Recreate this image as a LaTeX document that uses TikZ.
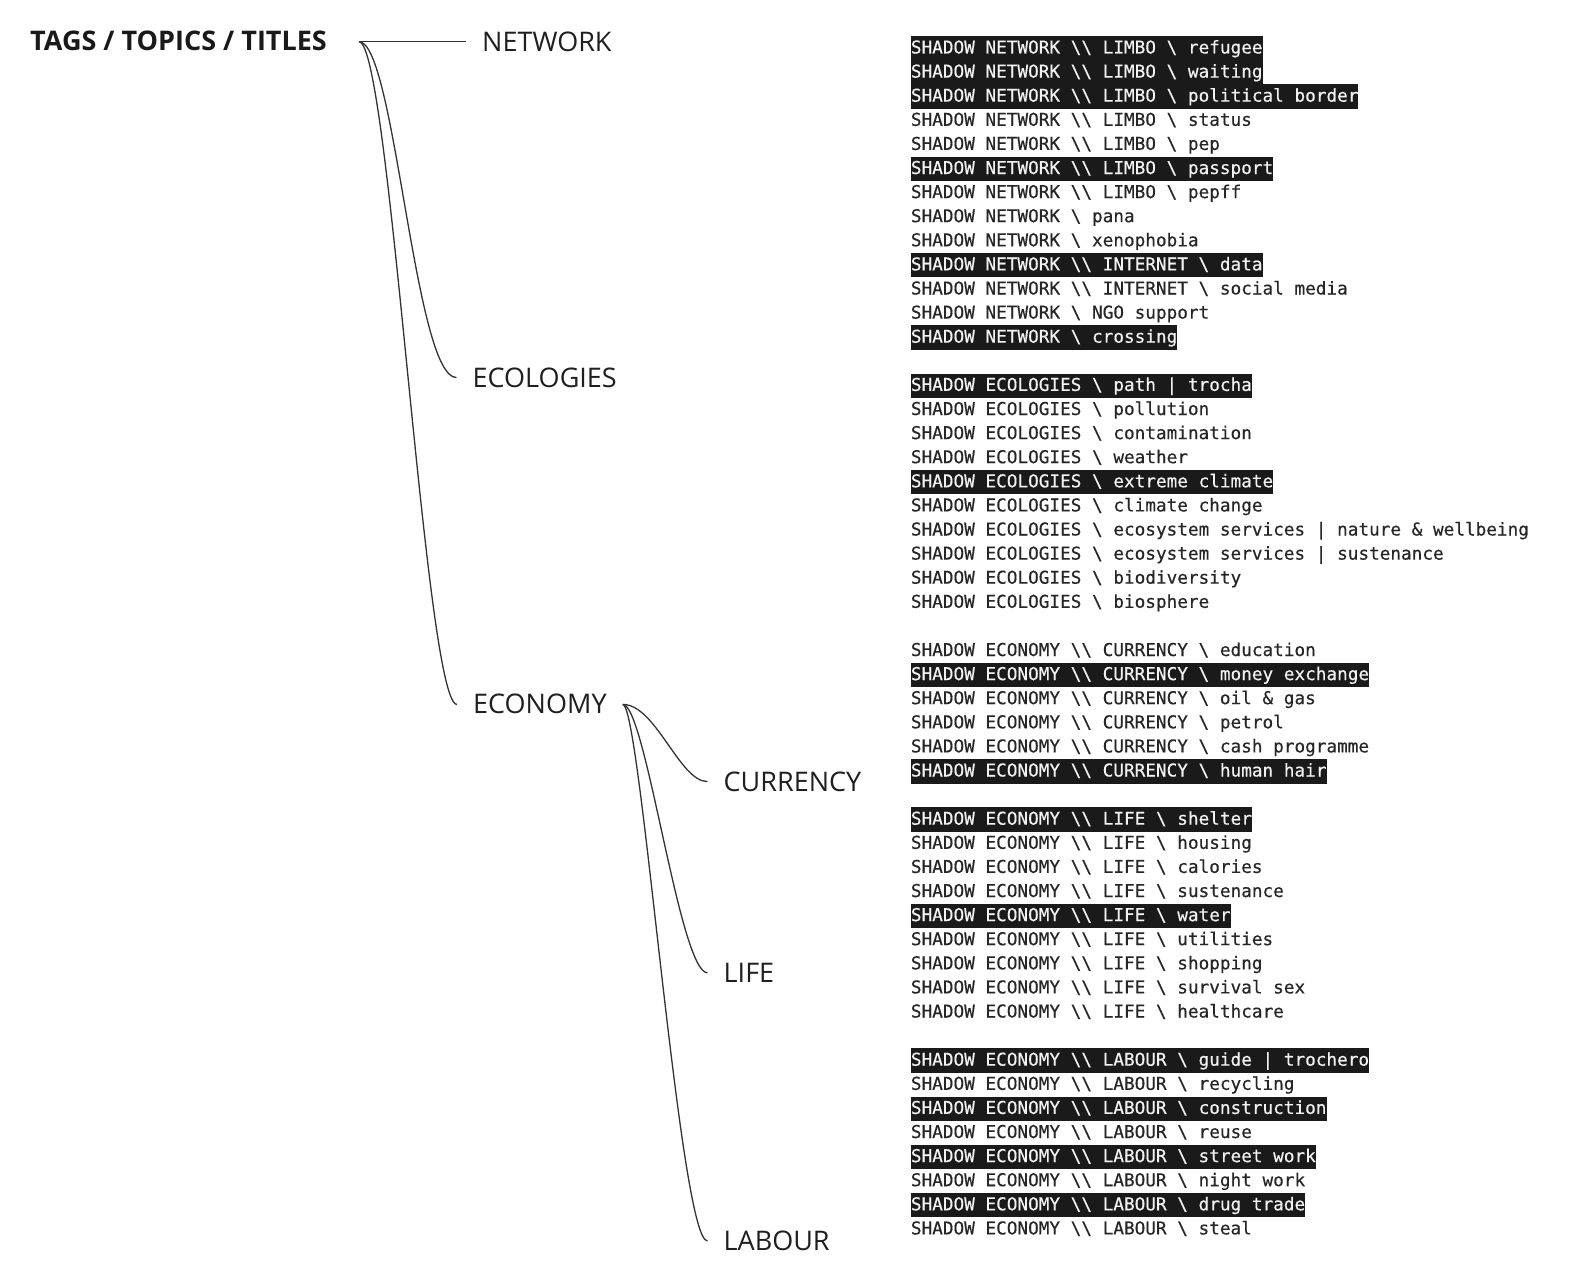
\documentclass[tikz,border=0pt]{standalone}
\usepackage{fontspec}
\setmainfont{Open Sans}
\newfontfamily\rowfont[FakeBold=0.4]{DejaVu Sans Mono}
\newfontfamily\lblfont{Open Sans}
\newcommand\bs{\textbackslash}
\definecolor{ink}{HTML}{262626}
\definecolor{hlfill}{HTML}{1A1A1A}
\definecolor{hltext}{HTML}{F2F2F2}
\definecolor{wire}{HTML}{333333}
\tikzset{
  listrow/.style={anchor=base west, inner xsep=0pt, inner ysep=0pt,
    text height=17.3pt, text depth=7pt, font=\rowfont\fontsize{17.7}{20}\selectfont, text=ink},
  hlrow/.style={listrow, fill=hlfill, text=hltext},
  lbl/.style={anchor=west, inner xsep=16pt, inner ysep=0pt, text height=19pt, text depth=0pt,
    font=\lblfont\fontsize{27}{30}\selectfont, text=black!88},
  wirestyle/.style={draw=wire, line width=1.3pt}
}
\newcommand\lrow[3]{\node[#1] (r#2) at (910.7,{53.5+24.1*#2}) {#3};}
\begin{document}
\begin{tikzpicture}[x=1pt,y=-1pt]
\fill[white] (0,0) rectangle (1595,1271);
\useasboundingbox (0,0) rectangle (1595,1271);

% title and tree labels
\node[anchor=base west, inner sep=0pt, font=\bfseries\fontsize{27}{30}\selectfont, text=black!90] (title) at (30,51) {TAGS / TOPICS / TITLES};
\coordinate (rootj) at (359,41.7);
\node[lbl] (network) at (466,41.7) {NETWORK};
\node[lbl] (ecologies) at (456.5,377.6) {ECOLOGIES};
\node[lbl] (economy) at (457,704.4) {ECONOMY};
\node[lbl] (currency) at (707.5,781.6) {CURRENCY};
\node[lbl] (life) at (707.5,972.8) {LIFE};
\node[lbl] (labour) at (707.5,1241) {LABOUR};

% connectors
\draw[wirestyle] (rootj) -- (network.west);
\draw[wirestyle] (rootj) .. controls +(36,0) and +(-42,0) .. (ecologies.west);
\draw[wirestyle] (rootj) .. controls +(31,0) and +(-32,0) .. (economy.west);
\draw[wirestyle] (economy.east) .. controls +(33,0) and +(-28,0) .. (currency.west);
\draw[wirestyle] (economy.east) .. controls +(23,0) and +(-28,0) .. (life.west);
\draw[wirestyle] (economy.east) .. controls +(18,0) and +(-28,0) .. (labour.west);

% NETWORK list
\lrow{hlrow}{0}{SHADOW NETWORK \bs\bs{} LIMBO \bs{} refugee}
\lrow{hlrow}{1}{SHADOW NETWORK \bs\bs{} LIMBO \bs{} waiting}
\lrow{hlrow}{2}{SHADOW NETWORK \bs\bs{} LIMBO \bs{} political border}
\lrow{listrow}{3}{SHADOW NETWORK \bs\bs{} LIMBO \bs{} status}
\lrow{listrow}{4}{SHADOW NETWORK \bs\bs{} LIMBO \bs{} pep}
\lrow{hlrow}{5}{SHADOW NETWORK \bs\bs{} LIMBO \bs{} passport}
\lrow{listrow}{6}{SHADOW NETWORK \bs\bs{} LIMBO \bs{} pepff}
\lrow{listrow}{7}{SHADOW NETWORK \bs{} pana}
\lrow{listrow}{8}{SHADOW NETWORK \bs{} xenophobia}
\lrow{hlrow}{9}{SHADOW NETWORK \bs\bs{} INTERNET \bs{} data}
\lrow{listrow}{10}{SHADOW NETWORK \bs\bs{} INTERNET \bs{} social media}
\lrow{listrow}{11}{SHADOW NETWORK \bs{} NGO support}
\lrow{hlrow}{12}{SHADOW NETWORK \bs{} crossing}

% ECOLOGIES list
\lrow{hlrow}{14}{SHADOW ECOLOGIES \bs{} path | trocha}
\lrow{listrow}{15}{SHADOW ECOLOGIES \bs{} pollution}
\lrow{listrow}{16}{SHADOW ECOLOGIES \bs{} contamination}
\lrow{listrow}{17}{SHADOW ECOLOGIES \bs{} weather}
\lrow{hlrow}{18}{SHADOW ECOLOGIES \bs{} extreme climate}
\lrow{listrow}{19}{SHADOW ECOLOGIES \bs{} climate change}
\lrow{listrow}{20}{SHADOW ECOLOGIES \bs{} ecosystem services | nature \& wellbeing}
\lrow{listrow}{21}{SHADOW ECOLOGIES \bs{} ecosystem services | sustenance}
\lrow{listrow}{22}{SHADOW ECOLOGIES \bs{} biodiversity}
\lrow{listrow}{23}{SHADOW ECOLOGIES \bs{} biosphere}

% CURRENCY list
\lrow{listrow}{25}{SHADOW ECONOMY \bs\bs{} CURRENCY \bs{} education}
\lrow{hlrow}{26}{SHADOW ECONOMY \bs\bs{} CURRENCY \bs{} money exchange}
\lrow{listrow}{27}{SHADOW ECONOMY \bs\bs{} CURRENCY \bs{} oil \& gas}
\lrow{listrow}{28}{SHADOW ECONOMY \bs\bs{} CURRENCY \bs{} petrol}
\lrow{listrow}{29}{SHADOW ECONOMY \bs\bs{} CURRENCY \bs{} cash programme}
\lrow{hlrow}{30}{SHADOW ECONOMY \bs\bs{} CURRENCY \bs{} human hair}

% LIFE list
\lrow{hlrow}{32}{SHADOW ECONOMY \bs\bs{} LIFE \bs{} shelter}
\lrow{listrow}{33}{SHADOW ECONOMY \bs\bs{} LIFE \bs{} housing}
\lrow{listrow}{34}{SHADOW ECONOMY \bs\bs{} LIFE \bs{} calories}
\lrow{listrow}{35}{SHADOW ECONOMY \bs\bs{} LIFE \bs{} sustenance}
\lrow{hlrow}{36}{SHADOW ECONOMY \bs\bs{} LIFE \bs{} water}
\lrow{listrow}{37}{SHADOW ECONOMY \bs\bs{} LIFE \bs{} utilities}
\lrow{listrow}{38}{SHADOW ECONOMY \bs\bs{} LIFE \bs{} shopping}
\lrow{listrow}{39}{SHADOW ECONOMY \bs\bs{} LIFE \bs{} survival sex}
\lrow{listrow}{40}{SHADOW ECONOMY \bs\bs{} LIFE \bs{} healthcare}

% LABOUR list
\lrow{hlrow}{42}{SHADOW ECONOMY \bs\bs{} LABOUR \bs{} guide | trochero}
\lrow{listrow}{43}{SHADOW ECONOMY \bs\bs{} LABOUR \bs{} recycling}
\lrow{hlrow}{44}{SHADOW ECONOMY \bs\bs{} LABOUR \bs{} construction}
\lrow{listrow}{45}{SHADOW ECONOMY \bs\bs{} LABOUR \bs{} reuse}
\lrow{hlrow}{46}{SHADOW ECONOMY \bs\bs{} LABOUR \bs{} street work}
\lrow{listrow}{47}{SHADOW ECONOMY \bs\bs{} LABOUR \bs{} night work}
\lrow{hlrow}{48}{SHADOW ECONOMY \bs\bs{} LABOUR \bs{} drug trade}
\lrow{listrow}{49}{SHADOW ECONOMY \bs\bs{} LABOUR \bs{} steal}
\end{tikzpicture}
\end{document}
